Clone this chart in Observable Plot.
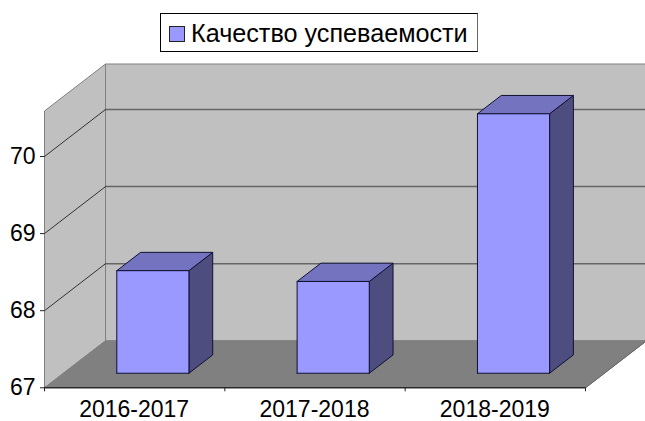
<!DOCTYPE html>
<html>
<head>
<meta charset="utf-8">
<script src="https://cdn.jsdelivr.net/npm/d3@7"></script>
<script src="https://cdn.jsdelivr.net/npm/@observablehq/plot@0.6"></script>
<style>
html,body{margin:0;padding:0;background:#fff;overflow:hidden}
#legend{position:absolute;left:160px;top:13px;width:318px;height:39px;box-sizing:border-box;border:1px solid #000;border-right-color:#666;background:#fff;font:25.2px "Liberation Sans",Arial,sans-serif;color:#000}
#legend i{position:absolute;left:8px;top:12px;width:14px;height:14px;background:#9999FF;border:1px solid #222}
#legend span{position:absolute;left:30px;top:5px;line-height:29px;white-space:nowrap}
#chart{position:absolute;left:0;top:60px}
</style>
</head>
<body>
<div id="legend"><i></i><span id="legendText"></span></div>
<div id="chart"></div>
<script>
const seriesName = "Качество успеваемости";
const categories = ["2016-2017", "2017-2018", "2018-2019"];
const values = [68.33, 68.19, 70.365];
const yTicks = [67, 68, 69, 70];
const yMin = 67, yMax = 70, wallTop = 70.59;

// Oblique projection: depth d (0..1) shifts a point in data units.
const depthX = 61 / (541 / 3);
const depthY = 47 / 77.1;
const P = (c, v, d, face) => ({px: c + d * depthX, py: v + d * depthY, face});
const poly = (pts, face) => pts.map(([c, v, d]) => P(c, v, d, face));
const lineOpts = (fill, stroke, strokeWidth) => ({x: "px", y: "py", z: "face", fill, stroke, strokeWidth, strokeLinejoin: "miter", strokeMiterlimit: 10});

const nCat = categories.length;
const backWall = poly([[0, yMin, 1], [nCat, yMin, 1], [nCat, wallTop, 1], [0, wallTop, 1], [0, yMin, 1]], "back");
const leftWall = poly([[0, yMin, 0], [0, wallTop, 0], [0, wallTop, 1], [0, yMin, 1], [0, yMin, 0]], "left");
const floor = poly([[0, yMin, 0], [nCat, yMin, 0], [nCat, yMin, 1], [0, yMin, 1], [0, yMin, 0]], "floor");
const backGrid = yTicks.slice(1).flatMap(t => poly([[0, t, 1], [nCat, t, 1]], "g" + t));
const sideGrid = yTicks.slice(1).flatMap(t => poly([[0, t, 0], [0, t, 1]], "s" + t));
const rightEdge = poly([[nCat, yMin, 0], [nCat, yMin, 1]], "r");

const d0 = 0.31, d1 = 0.70, halfW = 0.2, centre = 0.496;
const fronts = [], tops = [], sides = [];
values.forEach((v, i) => {
  const a = i + centre - halfW, b = i + centre + halfW;
  fronts.push(...poly([[a, yMin, d0], [b, yMin, d0], [b, v, d0], [a, v, d0], [a, yMin, d0]], "f" + i));
  tops.push(...poly([[a, v, d0], [b, v, d0], [b, v, d1], [a, v, d1], [a, v, d0]], "t" + i));
  sides.push(...poly([[b, yMin, d0], [b, yMin, d1], [b, v, d1], [b, v, d0], [b, yMin, d0]], "s" + i));
});

document.getElementById("legendText").textContent = seriesName;

const labelPositions = categories.map((_, i) => i + 0.5);
const plot = Plot.plot({
  width: 645,
  height: 361,
  marginLeft: 44,
  marginRight: 60,
  marginTop: 96,
  marginBottom: 33.7,
  style: {background: "transparent", overflow: "hidden", fontFamily: "'Liberation Sans', Arial, sans-serif", fontSize: "23px", color: "#000"},
  x: {domain: [0, nCat], axis: null},
  y: {domain: [yMin, yMax], axis: null},
  marks: [
    Plot.line(backWall, lineOpts("#C0C0C0", "#808080", 1)),
    Plot.line(leftWall, lineOpts("#C0C0C0", "#808080", 1)),
    Plot.line(floor, lineOpts("#808080", "#808080", 1)),
    Plot.line(backGrid, lineOpts("none", "#666666", 1.5)),
    Plot.line(sideGrid, lineOpts("none", "#333333", 1)),
    Plot.line(rightEdge, lineOpts("none", "#666666", 1)),
    Plot.line(sides, lineOpts("#4D4D80", "#111133", 1)),
    Plot.line(tops, lineOpts("#7373BF", "#111133", 1)),
    Plot.line(fronts, lineOpts("#9999FF", "#111133", 1)),
    Plot.ruleY([yMin], {stroke: "#000", strokeWidth: 1}),
    Plot.axisX({ticks: d3.range(nCat + 1), tickSize: 4, tickFormat: () => "", label: null, stroke: "#222"}),
    Plot.axisX({ticks: labelPositions, tickSize: 0, tickPadding: 13, label: null, tickFormat: c => categories[Math.floor(c)], fontSize: 23, fill: "#000", dx: -0.5}),
    Plot.axisY({ticks: yTicks, tickSize: 4, tickPadding: 5, label: null, tickFormat: d => String(d), fontSize: 23, fill: "#000", stroke: "#222"})
  ]
});
document.getElementById("chart").appendChild(plot);
</script>
</body>
</html>
